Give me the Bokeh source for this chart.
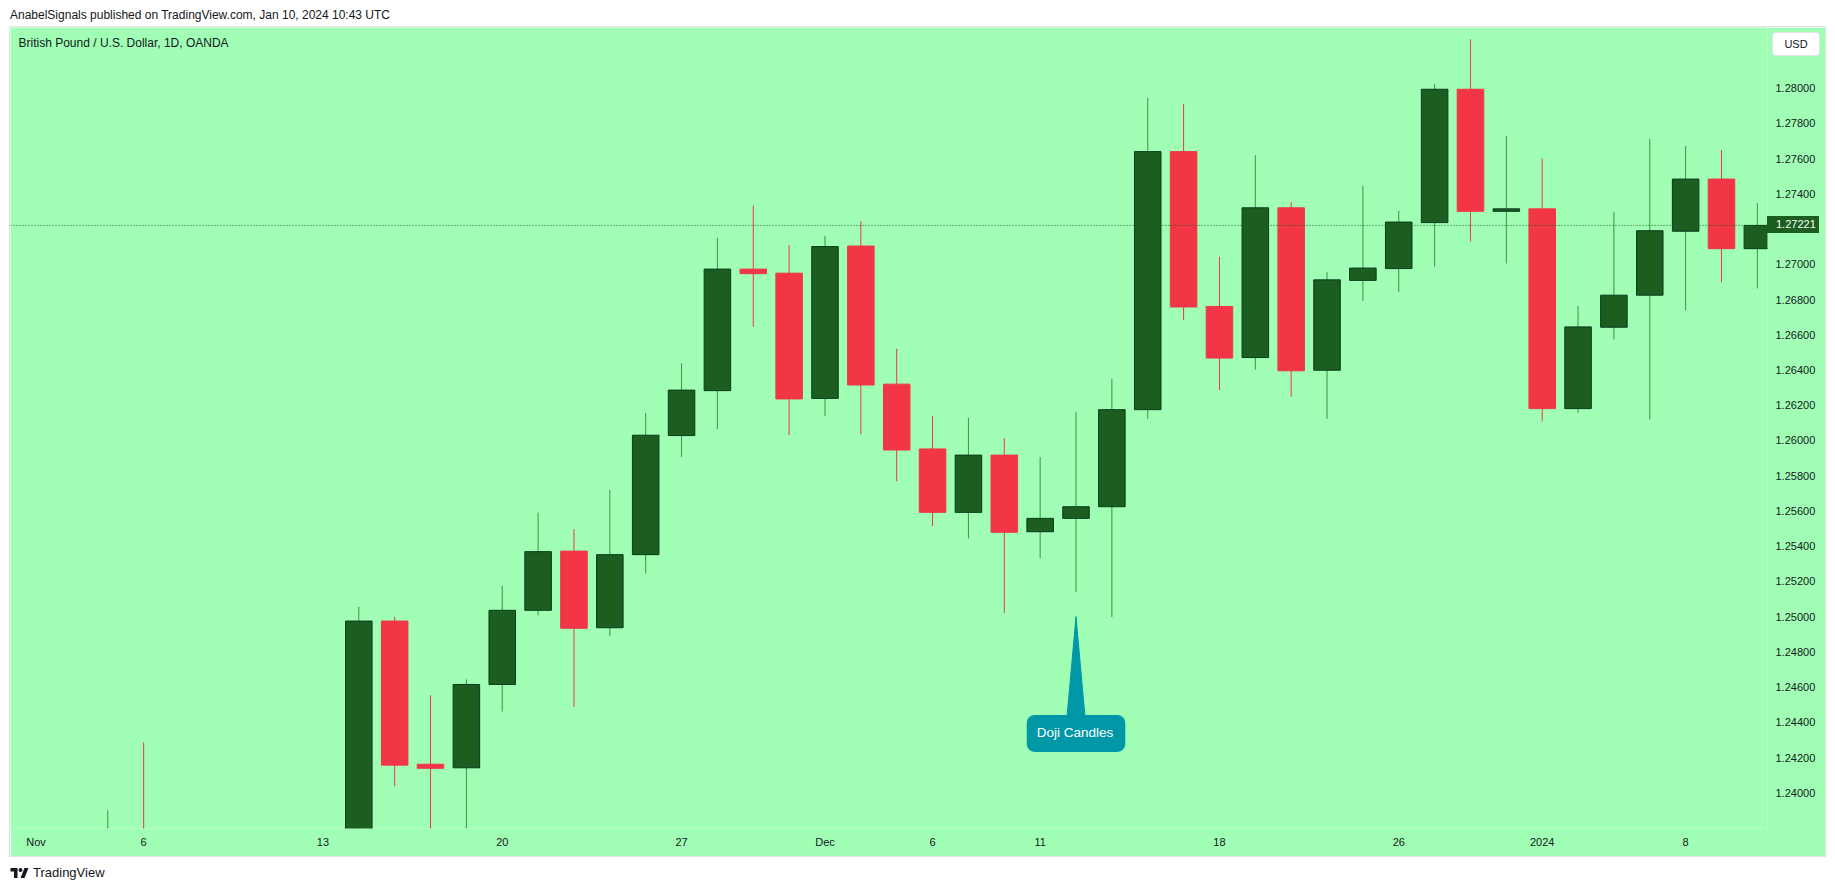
from bokeh.plotting import figure
from bokeh.models import (ColumnDataSource, FixedTicker, Range1d, Span, Label, Div,
                          PrintfTickFormatter)
from bokeh.layouts import column
from bokeh.embed import file_html
from bokeh.resources import INLINE

# ---------------- data (GBP/USD daily, OANDA) ----------------
dates = ["Nov 1", "Nov 2", "Nov 3", "Nov 6", "Nov 7", "Nov 8", "Nov 9", "Nov 10",
         "Nov 13", "Nov 14", "Nov 15", "Nov 16", "Nov 17", "Nov 20", "Nov 21", "Nov 22",
         "Nov 23", "Nov 24", "Nov 27", "Nov 28", "Nov 29", "Nov 30", "Dec 1", "Dec 4",
         "Dec 5", "Dec 6", "Dec 7", "Dec 8", "Dec 11", "Dec 12", "Dec 13", "Dec 14",
         "Dec 15", "Dec 18", "Dec 19", "Dec 20", "Dec 21", "Dec 22", "Dec 26", "Dec 27",
         "Dec 28", "Dec 29", "Jan 2", "Jan 3", "Jan 4", "Jan 5", "Jan 8", "Jan 9", "Jan 10"]

opens = [1.2152, 1.2160, 1.2230, 1.2376, 1.2357, 1.2285, 1.2270, 1.2227,
         1.2235, 1.2280, 1.24975, 1.24162, 1.24142, 1.24615, 1.25036, 1.25372,
         1.24937, 1.25352, 1.26028, 1.26283, 1.26973, 1.26950, 1.26239, 1.27104,
         1.26320, 1.25952, 1.25592, 1.25917, 1.25482, 1.25558, 1.25624, 1.26175,
         1.27640, 1.26761, 1.26471, 1.27321, 1.26399, 1.26909, 1.26976, 1.27237,
         1.27994, 1.27301, 1.27315, 1.26181, 1.26643, 1.26825, 1.27188, 1.27484, 1.27089]

highs = [1.2175, 1.2250, 1.2390, 1.24286, 1.2370, 1.2310, 1.2285, 1.2245,
         1.2300, 1.25056, 1.24998, 1.24554, 1.24644, 1.25175, 1.25590, 1.25497,
         1.25720, 1.26155, 1.26439, 1.27150, 1.27333, 1.27110, 1.27162, 1.27246,
         1.26521, 1.26138, 1.26129, 1.26013, 1.25906, 1.26161, 1.26350, 1.27945,
         1.27910, 1.27043, 1.27620, 1.27353, 1.26956, 1.27446, 1.27304, 1.28023,
         1.28278, 1.27730, 1.27600, 1.26764, 1.27298, 1.27713, 1.27672, 1.27649, 1.27347]

lows = [1.2096, 1.2150, 1.2210, 1.2340, 1.2265, 1.2255, 1.2187, 1.2185,
        1.2212, 1.2270, 1.24038, 1.23740, 1.23760, 1.24461, 1.25007, 1.24487,
        1.24890, 1.25244, 1.25906, 1.26065, 1.26645, 1.26030, 1.26138, 1.26036,
        1.25769, 1.25514, 1.25444, 1.25021, 1.25331, 1.25140, 1.24998, 1.26123,
        1.26683, 1.26286, 1.26402, 1.26248, 1.26123, 1.26793, 1.26843, 1.26988,
        1.27130, 1.27005, 1.26109, 1.26158, 1.26573, 1.26120, 1.26738, 1.26898, 1.26863]

closes = [1.2160, 1.2230, 1.2376, 1.2357, 1.2285, 1.2270, 1.2227, 1.2235,
          1.2280, 1.24975, 1.24157, 1.24139, 1.24615, 1.25036, 1.25369, 1.24934,
          1.25352, 1.26030, 1.26286, 1.26973, 1.26947, 1.26236, 1.27101, 1.26315,
          1.25946, 1.25592, 1.25917, 1.25479, 1.25558, 1.25624, 1.26175, 1.27640,
          1.26758, 1.26468, 1.27321, 1.26396, 1.26912, 1.26979, 1.27240, 1.27994,
          1.27301, 1.27315, 1.26181, 1.26645, 1.26825, 1.27191, 1.27484, 1.27089, 1.27221]

x_tick_index = [0, 3, 8, 13, 18, 22, 25, 28, 33, 38, 42, 46]
x_tick_labels = ["Nov", "6", "13", "20", "27", "Dec", "6", "11", "18", "26", "2024", "8"]
y_ticks = [1.24000, 1.24200, 1.24400, 1.24600, 1.24800, 1.25000, 1.25200, 1.25400,
           1.25600, 1.25800, 1.26000, 1.26200, 1.26400, 1.26600, 1.26800, 1.27000,
           1.27200, 1.27400, 1.27600, 1.27800, 1.28000]

last_price = 1.27221
doji_index = 29            # Dec 12 (the annotated doji)
doji_tip_price = 1.25000
doji_base_price = 1.24433
doji_label_price = 1.24337

# ---------------- style ----------------
BG = "#a0ffb4"
UP_BODY = "#1b5e20"
UP_BORDER = "#083b1f"
UP_WICK = "#3a9440"
DOWN = "#f23645"
TEXT = "#131722"
FONT = "Liberation Sans"

PAGE_MARGIN = 8
HEADER_H = 19
FIG_W, FIG_H = 1815, 829
AXIS_R, AXIS_B = 58, 28
FRAME_H = FIG_H - AXIS_B
FRAME_LEFT_PAGE = PAGE_MARGIN + 2
FRAME_TOP_PAGE = PAGE_MARGIN + HEADER_H
FRAME_RIGHT_PAGE = FRAME_LEFT_PAGE + FIG_W - AXIS_R

x_start, x_end = -0.713, 48.283
y_start, y_end = 1.237973, 1.283446
ppu = FRAME_H / (y_end - y_start)

n = len(dates)
xs = list(range(n))
up = [c >= o for o, c in zip(opens, closes)]
src = ColumnDataSource(dict(
    x=xs,
    mid=[(o + c) / 2 for o, c in zip(opens, closes)],
    h=[abs(o - c) for o, c in zip(opens, closes)],
    high=highs, low=lows,
    body=[UP_BODY if u else DOWN for u in up],
    border=[UP_BORDER if u else DOWN for u in up],
    wick=[UP_WICK if u else DOWN for u in up],
))

p = figure(width=FIG_W, height=FIG_H, output_backend="svg", toolbar_location=None,
           x_range=Range1d(x_start, x_end), y_range=Range1d(y_start, y_end),
           y_axis_location="right", min_border_left=0, min_border_top=0,
           min_border_right=AXIS_R, min_border_bottom=AXIS_B, margin=(0, 0, 0, 2),
           styles={"outline": "1px solid #dfe6e1"})
p.background_fill_color = BG
p.border_fill_color = BG
p.outline_line_color = None
p.xgrid.visible = False
p.ygrid.visible = False

p.segment(x0="x", y0="high", x1="x", y1="low", color="wick", line_width=1, source=src)
p.rect(x="x", y="mid", width=0.74, height="h", fill_color="body",
       line_color="border", line_width=1, source=src)

# current price line
p.add_layout(Span(location=last_price, dimension="width", line_color=UP_BODY,
                  line_dash="1 2", line_width=1))

# axes
ya = p.yaxis[0]
ya.ticker = FixedTicker(ticks=y_ticks)
ya.formatter = PrintfTickFormatter(format="%.5f")
ya.axis_line_color = None
ya.major_tick_line_color = None
ya.minor_tick_line_color = None
ya.major_tick_out = 0
ya.major_tick_in = 0
ya.major_label_standoff = 8
ya.major_label_text_font = FONT
ya.major_label_text_font_size = "11px"
ya.major_label_text_color = TEXT

xa = p.xaxis[0]
xa.ticker = FixedTicker(ticks=x_tick_index)
xa.major_label_overrides = {i: s for i, s in zip(x_tick_index, x_tick_labels)}
xa.axis_line_color = None
xa.major_tick_line_color = None
xa.minor_tick_line_color = None
xa.major_tick_out = 0
xa.major_tick_in = 0
xa.major_label_standoff = 7
xa.major_label_text_font = FONT
xa.major_label_text_font_size = "11px"
xa.major_label_text_color = TEXT

# symbol title
p.add_layout(Label(text="British Pound / U.S. Dollar, 1D, OANDA", x=8, x_units="screen",
                   y=y_end - 15 / ppu, text_baseline="middle", text_align="left",
                   text_font=FONT, text_font_size="12px", text_color=TEXT))

# doji callout
CALLOUT = "#0097a7"
p.patch(x=[doji_index - 0.25, doji_index, doji_index + 0.25],
        y=[doji_base_price, doji_tip_price, doji_base_price], color=CALLOUT)
p.add_layout(Label(text="Doji Candles", x=doji_index, y=doji_label_price,
                   text_align="center", text_baseline="middle", text_font=FONT,
                   text_font_size="13.5px", text_color="white",
                   background_fill_color=CALLOUT, padding=(10, 12, 10, 12),
                   border_radius=8))

# price-scale widgets (outside the frame, so drawn as fixed-position HTML)
price_top = FRAME_TOP_PAGE + (y_end - last_price) * ppu - 8.5
usd_box = ('<div style="position:fixed;left:%dpx;top:%dpx;width:48px;height:24px;'
           'box-sizing:border-box;border:1px solid #e0e3eb;border-radius:4px;background:#fff;'
           'font-family:\'Liberation Sans\';font-size:11px;line-height:22px;text-align:center;'
           'color:%s;z-index:1000;">USD</div>') % (FRAME_RIGHT_PAGE + 5, FRAME_TOP_PAGE + 5, TEXT)
price_box = ('<div style="position:fixed;left:%dpx;top:%.1fpx;width:52px;height:17px;'
             'box-sizing:border-box;padding-left:9px;background:%s;color:#fff;'
             'font-family:\'Liberation Sans\';font-size:11px;line-height:17px;'
             'z-index:1000;">%.5f</div>') % (FRAME_RIGHT_PAGE, price_top, UP_BODY, last_price)

header = Div(text=("AnabelSignals published on TradingView.com, Jan 10, 2024 10:43 UTC"
                   + usd_box + price_box),
             width=1817, height=HEADER_H, margin=(0, 0, 0, 2),
             styles={"font-family": "'Liberation Sans'", "font-size": "12px",
                     "color": TEXT, "line-height": "14px"})

logo = ('<svg width="19" height="10" viewBox="0 0 36 20" xmlns="http://www.w3.org/2000/svg">'
        '<path d="M14 20H7V7H0V0h14z" fill="#131722"/>'
        '<circle cx="20" cy="4" r="4" fill="#131722"/>'
        '<path d="M28 20h-8L28 0h8z" fill="#131722"/></svg>')
footer = Div(text=('<div style="display:flex;align-items:center;height:14px;margin-top:10px;">'
                   + logo + '<span style="margin-left:4px;">TradingView</span></div>'),
             width=1817, height=27, margin=(0, 0, 0, 0),
             styles={"font-family": "'Liberation Sans'", "font-size": "13px",
                     "color": TEXT, "line-height": "14px", "padding-left": "2px"})

layout = column(header, p, footer, spacing=0,
                margin=(PAGE_MARGIN, 0, 0, PAGE_MARGIN))
open("out.html", "w").write(file_html(layout, INLINE))
